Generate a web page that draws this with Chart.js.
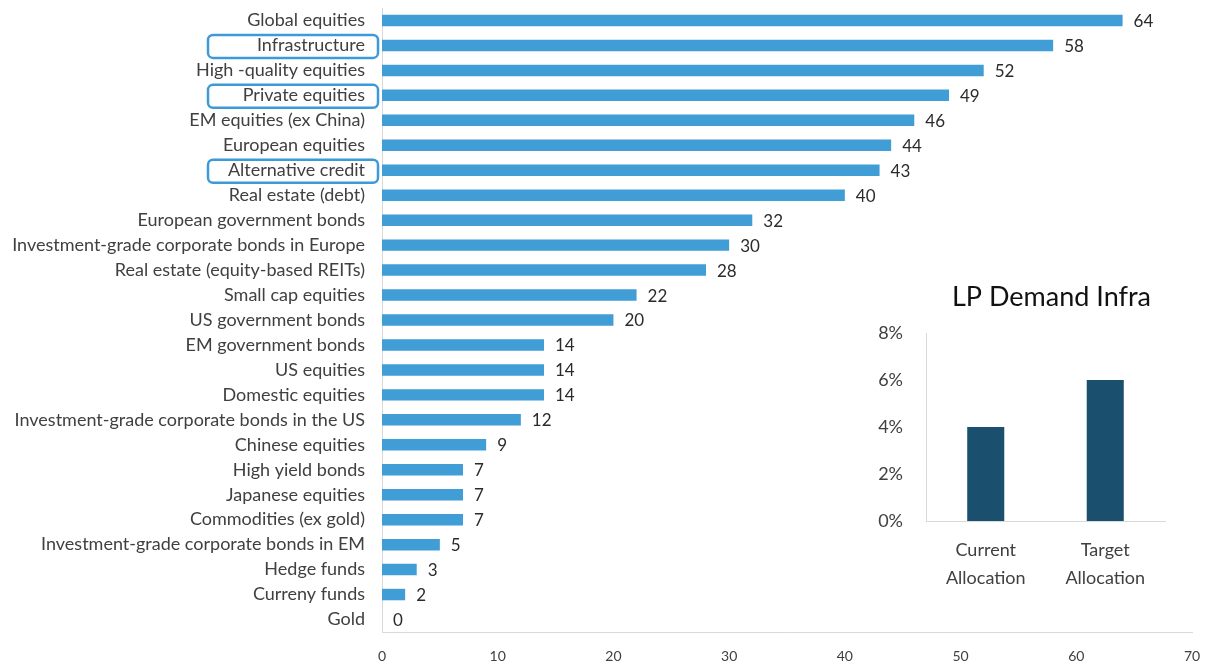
<!DOCTYPE html>
<html>
<head>
<meta charset="utf-8">
<script src="https://cdn.jsdelivr.net/npm/chart.js@4"></script>
<style>
  html, body { margin: 0; padding: 0; background: #fff; }
  #wrap { position: relative; width: 1209px; height: 664px; }
  #main { position: absolute; left: 0; top: 0; }
  #inset { position: absolute; left: 859px; top: 280px; }
</style>
</head>
<body>
<div id="wrap">
  <canvas id="main" width="1209" height="664"></canvas>
  <canvas id="inset" width="310" height="312"></canvas>
</div>
<script>
// main chart data
var assets = ["Global equities","Infrastructure","High -quality equities","Private equities","EM equities (ex China)",
  "European equities","Alternative credit","Real estate (debt)","European government bonds",
  "Investment-grade corporate bonds in Europe","Real estate (equity-based REITs)","Small cap equities",
  "US government bonds","EM government bonds","US equities","Domestic equities",
  "Investment-grade corporate bonds in the US","Chinese equities","High yield bonds","Japanese equities",
  "Commodities (ex gold)","Investment-grade corporate bonds in EM","Hedge funds","Curreny funds","Gold"]
var scores = [64,58,52,49,46,44,43,40,32,30,28,22,20,14,14,14,12,9,7,7,7,5,3,2,0]
var boxed = ["Infrastructure","Private equities","Alternative credit"]

// inset data
var allocLabels = [["Current","Allocation"],["Target","Allocation"]]
var allocValues = [0.04, 0.06]
var insetTitle = "LP Demand Infra"

var FONT = "Lato, 'Open Sans', sans-serif"
Chart.defaults.font.family = FONT
Chart.defaults.color = "#404040"

var valueLabels = {
  id: "valueLabels",
  afterDatasetsDraw: function(chart) {
    var ctx = chart.ctx
    var meta = chart.getDatasetMeta(0)
    ctx.save()
    ctx.font = "17px " + FONT
    ctx.fillStyle = "#2b2b2b"
    ctx.textBaseline = "middle"
    ctx.textAlign = "left"
    meta.data.forEach(function(bar, i) {
      ctx.fillText(String(scores[i]), bar.x + 11, bar.y + 1)
    })
    ctx.restore()
  }
}

var labelBoxes = {
  id: "labelBoxes",
  afterDraw: function(chart) {
    var ctx = chart.ctx
    var ys = chart.scales.y
    var left = chart.chartArea.left
    ctx.save()
    ctx.strokeStyle = "#3d9ad6"
    ctx.lineWidth = 2.5
    boxed.forEach(function(name) {
      var i = assets.indexOf(name)
      var y = ys.getPixelForValue(i)
      ctx.beginPath()
      ctx.roundRect(left - 174, y - 10.5, 170, 23, 5)
      ctx.stroke()
    })
    ctx.restore()
  }
}

// title centred over the plot area, not the canvas
var areaTitle = {
  id: "areaTitle",
  afterDraw: function(chart) {
    var ctx = chart.ctx
    var a = chart.chartArea
    ctx.save()
    ctx.font = "27px " + FONT
    ctx.fillStyle = "#111"
    ctx.textAlign = "center"
    ctx.textBaseline = "middle"
    ctx.fillText(insetTitle, (a.left + a.right) / 2 + 6, 17)
    ctx.restore()
  }
}

new Chart(document.getElementById("main"), {
  type: "bar",
  data: {
    labels: assets,
    datasets: [{
      data: scores,
      backgroundColor: "#419dd5",
      barPercentage: 0.46,
      categoryPercentage: 1
    }]
  },
  options: {
    indexAxis: "y",
    responsive: false,
    animation: false,
    layout: { padding: { top: 8, right: 17, left: 0, bottom: 0 } },
    plugins: { legend: { display: false }, tooltip: { enabled: false } },
    scales: {
      x: {
        min: 0, max: 70,
        ticks: { stepSize: 10, font: { size: 14 }, padding: 16, color: "#404040" },
        grid: { display: false, drawTicks: false },
        border: { color: "#d9d9d9" },
        afterFit: function(s) { s.height = 32; s.paddingLeft = 0; s.paddingRight = 0 }
      },
      y: {
        ticks: { font: { size: 18 }, padding: 17, color: "#404040", autoSkip: false },
        grid: { display: false, drawTicks: false },
        border: { color: "#d9d9d9" },
        afterFit: function(s) { s.width = 382; s.paddingTop = 0; s.paddingBottom = 0 }
      }
    }
  },
  plugins: [valueLabels, labelBoxes]
})

new Chart(document.getElementById("inset"), {
  type: "bar",
  data: {
    labels: allocLabels,
    datasets: [{
      data: allocValues,
      backgroundColor: "#1b4f6e",
      barPercentage: 0.31,
      categoryPercentage: 1
    }]
  },
  options: {
    responsive: false,
    animation: false,
    layout: { padding: { top: 53, right: 4, left: 0, bottom: 0 } },
    plugins: { legend: { display: false }, tooltip: { enabled: false } },
    scales: {
      x: {
        ticks: { font: { size: 18, lineHeight: 1.55 }, color: "#404040", padding: 15 },
        grid: { display: false, drawTicks: false },
        border: { color: "#d9d9d9" },
        afterFit: function(s) { s.height = 71 }
      },
      y: {
        min: 0, max: 0.08,
        ticks: {
          stepSize: 0.02,
          font: { size: 18 },
          color: "#404040",
          padding: 23,
          callback: function(v) { return Math.round(v * 100) + "%" }
        },
        grid: { display: false, drawTicks: false },
        border: { color: "#d9d9d9" },
        afterFit: function(s) { s.width = 67; s.paddingTop = 0; s.paddingBottom = 0 }
      }
    }
  },
  plugins: [areaTitle]
})
</script>
</body>
</html>
